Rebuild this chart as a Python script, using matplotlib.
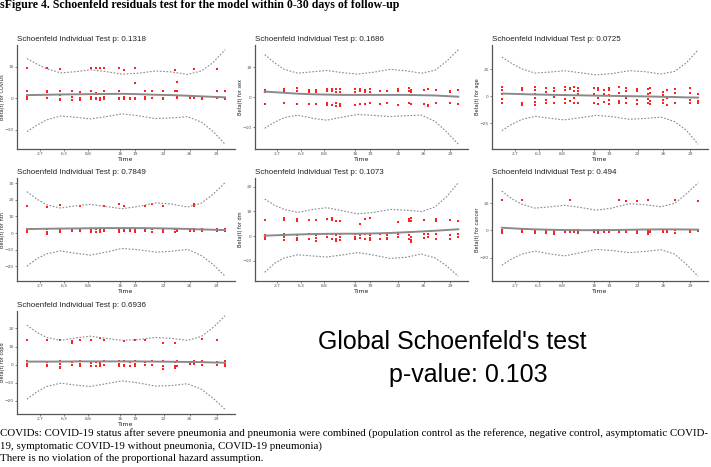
import matplotlib
matplotlib.use("Agg")
import matplotlib.pyplot as plt

# event times on the (transformed) time axis, shared by all panels
event_x = [0.0, 0.101, 0.168, 0.227, 0.266, 0.323, 0.348, 0.368, 0.390, 0.467, 0.491, 0.519,
           0.546, 0.597, 0.630, 0.689, 0.745, 0.757, 0.823, 0.841, 0.883, 0.958, 1.0]
tick_pos = [0.066, 0.187, 0.308, 0.469, 0.545, 0.691, 0.822, 0.958]
tick_lab = ['2.7', '6.3', '8.8', '16', '19', '22', '26', '29']

# grid for smooth fit and confidence band
curve_x = [0, 0.05, 0.1, 0.17, 0.25, 0.32, 0.4, 0.48, 0.56, 0.65, 0.73, 0.81, 0.88, 0.94, 1.0]

variables = ['COVIDs', 'sex', 'age', 'htn', 'dm', 'cancer', 'copd']
pvalues = ['0.1318', '0.1686', '0.0725', '0.7849', '0.1073', '0.494', '0.6936']

covids_res = [[9.5, 2.2, 0.4, -0.3], [9.5, 2.3, 2.0, 0.0], [9.2, 2.2, 1.0, -0.2, -0.6],
              [2.2, 0.3, -0.4], [2.0, 0.0, -0.4], [9.5, 2.2, 0.5, -0.3], [9.5, 1.8, 0.2, -0.2],
              [9.5, 1.2, 0.0, -0.4], [9.5, 2.2, 0.3, -0.3], [9.5, 2.2, 0.2, -0.3], [9.0, 0.4, -0.2],
              [0.0, -0.3], [9.5, 4.7, 0.2, -0.3], [2.2, 0.3, -0.2], [2.2, 0.0], [2.2, 0.2, -0.3],
              [9.0, 2.2], [5.0, 2.2, 0.3, 0.0], [0.4, 0.0], [9.2, 0.2], [0.0, -0.3],
              [9.2, 2.2, 0.0], [2.2, 0.2, -0.3]]
sex_res = [[2.4, 1.8, -2.2], [2.9, 2.2, -2.0], [3.2, 2.0, -2.1], [2.3, 1.8, -2.2], [2.5, 1.8, -2.2],
           [2.6, 2.2, -2.0, -2.4], [2.6, 2.0, -2.5], [2.8, 1.8, -2.0, -3.0], [2.6, 1.9, -2.8, -2.2],
           [2.7, 1.9, -2.6], [2.7, 2.0, -2.2], [2.4, 1.8, -2.2], [2.6, 1.8, -2.0], [2.2, -2.2],
           [2.2, -2.0], [2.7, 2.0, -2.4], [3.0, 2.2, -2.0], [2.4, 1.8, -2.3], [2.4, -2.2],
           [2.6, -2.6, -3.0], [2.4, -2.0], [2.2, 1.8, -2.0], [2.4, -2.2]]
age_res = [[8.5, 6.0, 2.5, -2.5, -6.0], [8.0, 6.0, -6.5, -8.0], [8.5, 5.5, 2.0, -1.5, -5.5, -8.0],
           [8.0, 4.0, -3.0, -6.5], [7.5, 5.0, -1.0, -6.0], [8.5, 5.5, 1.0, -2.5, -6.0],
           [8.0, 6.5, -4.0], [8.5, 4.5, -1.5, -6.0], [8.0, 5.0, 2.0, -6.0], [7.5, 2.5, -6.5],
           [8.0, 6.0, -2.0, -7.0], [6.0, 2.0, -5.5], [8.0, 5.5, 1.0, -3.5, -7.0],
           [8.5, 3.0, -4.0, -6.5], [7.5, 5.0, -2.0, -6.5], [7.0, 4.5, -3.0, -7.0],
           [6.5, 2.0, -2.5, -6.0], [8.0, 3.0, -4.5, -7.0], [4.0, 1.0, -3.5, -6.5], [5.5, -2.0, -8.0],
           [7.0, 3.0, -1.0, -6.0], [8.0, 3.0, -3.0, -6.5], [2.0, -4.0, -6.0]]
htn_res = [[16.3, 2.5, 1.5, 0.5], [16.0, 2.2, 0.5, -0.3], [16.8, 2.5, 1.5, 0.5], [2.3, 1.0],
           [16.5, 2.5, 1.2], [2.2, 1.5, 0.6], [2.2, 0.8], [2.5, 1.5, 0.5], [16.3, 2.2, 1.0],
           [17.8, 2.5, 1.5, 0.7], [16.3, 2.5, 1.0], [2.2, 1.2], [2.5, 1.5, 0.5], [16.4, 2.5, 1.0],
           [17.4, 2.3, 0.8], [16.3, 2.5, 1.5, 0.5], [2.2, 0.8], [2.5, 1.3], [2.4, 1.5],
           [17.5, 16.5, 2.5, 1.5], [2.5, 1.0], [2.4, 1.5], [2.2, 1.4]]
dm_res = [[6.5, 0.5, -0.5, -1.3], [7.2, 6.5, 0.8, -0.5, -1.5], [6.8, 6.0, 0.5, -0.8, -1.5],
          [6.5, 0.8, -1.0], [6.5, 0.5, -0.8, -1.8], [6.8, 0.8, -0.5], [7.2, 6.5, 1.0, -1.2],
          [6.0, 0.5, -1.0, -1.8], [6.0, 0.8, -0.5, -1.5], [0.8, -0.5, -1.2], [5.0, 0.5, -0.8],
          [6.8, 1.0, -1.0], [7.2, 0.5, -0.8, -1.5], [0.8, -1.0], [0.5, -0.8, -1.2],
          [5.6, 0.8, -0.5], [6.0, 7.0, 0.5, -1.0], [7.2, 6.2, -0.5, -1.5, -2.3], [6.5, 1.0, -0.8],
          [0.8, -0.5], [7.0, 6.2, 1.0, -1.0], [6.5, 0.5, -1.0], [6.0, 0.8, -0.5]]
cancer_res = [[22.5, 0.5, -1.0, -2.0], [22.5, 0.0, -1.5], [0.5, -0.8, -1.8], [0.3, -1.0, -1.8],
              [0.0, -1.5, -2.5], [0.2, -1.2], [22.5, 0.5, -1.0], [0.0, -1.5], [0.3, -0.8, -1.8],
              [0.5, -1.0], [0.0, -1.5, -2.2], [0.3, -1.0], [0.0, -1.5], [22.5, 0.5, -1.5],
              [22.0, 0.0, -1.0], [22.0, 0.3, -1.5, -2.0], [22.3, 0.0, -1.5, -2.5], [0.5, -1.0],
              [0.3, -1.2], [0.0, -1.5], [22.5, 0.5, -1.8], [0.3, -1.0], [21.5, 0.5, -0.5]]
copd_res = [[13.4, 1.8, 0.5, -0.5, -1.0], [13.4, 1.5, 0.0, -1.0], [13.4, 1.8, 0.3, -1.2, -2.0],
            [13.0, 11.8, 1.5, -0.3], [13.4, 1.8, 0.5, -0.8], [13.4, 1.0, -0.5, -1.0], [1.5, -0.5],
            [14.5, 1.6, 0.5, -0.8], [13.4, 1.8, -0.2], [1.8, 0.5, -0.8], [13.2, 1.8, 0.0, -1.0],
            [1.5, -0.5], [13.4, 1.8, 0.3, -0.8], [13.4, 1.5, 0.0], [1.8, -0.3],
            [11.8, 1.8, -1.0, -2.2], [11.8, 1.5, -0.5, -1.8], [1.8, -1.0], [1.5, 0.3], [1.8, 0.5],
            [14.2, 1.8, 0.0], [13.4, 1.5, -0.3], [1.8, 0.5, -0.8]]

covids_fit = [1.0, 1.05, 1.1, 1.2, 1.25, 1.3, 1.35, 1.4, 1.3, 1.1, 1.0, 0.8, 0.6, 0.45, 0.3]
covids_up = [12.5, 10.8, 9.3, 8.0, 8.4, 9.0, 8.4, 7.6, 7.9, 8.6, 8.3, 7.5, 8.6, 11.3, 15.3]
covids_lo = [-10.5, -8.5, -6.8, -5.6, -6.0, -6.5, -5.8, -4.9, -5.5, -6.4, -6.2, -5.8, -7.5, -10.5, -14.5]
sex_fit = [1.9, 1.7, 1.5, 1.2, 1.0, 0.9, 0.8, 0.8, 0.8, 0.8, 0.8, 0.7, 0.6, 0.4, 0.2]
sex_up = [14.2, 11.5, 9.3, 8.0, 8.5, 8.9, 8.2, 7.7, 8.3, 9.3, 8.8, 8.0, 9.0, 12.0, 15.8]
sex_lo = [-10.3, -8.3, -6.8, -5.9, -7.0, -7.6, -6.6, -5.7, -6.0, -6.4, -6.1, -5.9, -8.0, -11.5, -15.6]
age_fit = [2.5, 2.3, 2.0, 1.7, 1.4, 1.1, 0.9, 0.6, 0.4, 0.1, -0.1, -0.4, -0.7, -1.0, -1.2]
age_up = [36.3, 30.5, 25.5, 21.5, 22.5, 23.7, 21.8, 19.8, 21.0, 23.7, 22.8, 20.6, 23.0, 31.0, 43.1]
age_lo = [-31.8, -26.0, -21.5, -18.5, -20.5, -21.8, -19.8, -17.6, -18.8, -21.3, -20.5, -19.2, -23.5, -31.5, -44.4]
htn_fit = [2.4, 2.5, 2.6, 2.7, 2.8, 2.9, 3.0, 3.0, 3.0, 2.9, 2.7, 2.5, 2.2, 2.0, 1.8]
htn_up = [25.0, 20.5, 17.0, 15.1, 16.5, 17.3, 16.0, 14.7, 16.0, 18.2, 17.5, 15.7, 18.0, 23.5, 30.4]
htn_lo = [-20.0, -15.5, -12.5, -10.8, -12.3, -13.3, -11.5, -9.3, -10.0, -11.5, -11.0, -9.8, -13.5, -19.0, -26.1]
dm_fit = [0.2, 0.35, 0.5, 0.7, 0.85, 0.95, 1.0, 1.0, 1.1, 1.3, 1.6, 1.9, 2.2, 2.5, 2.8]
dm_up = [15.0, 12.5, 10.8, 9.6, 10.8, 11.5, 10.3, 9.0, 9.6, 10.8, 10.5, 9.9, 11.8, 16.0, 21.6]
dm_lo = [-14.6, -11.0, -8.8, -7.5, -8.0, -8.4, -7.6, -6.6, -7.6, -9.0, -8.5, -7.2, -8.8, -12.0, -16.2]
cancer_fit = [2.0, 1.6, 1.2, 0.8, 0.5, 0.3, 0.2, 0.2, 0.3, 0.5, 0.7, 0.8, 0.8, 0.7, 0.6]
cancer_up = [29.1, 23.5, 19.5, 16.5, 17.5, 18.6, 17.0, 15.0, 16.5, 19.8, 19.0, 17.5, 20.0, 27.0, 35.3]
cancer_lo = [-25.7, -21.0, -17.5, -15.2, -17.5, -18.8, -16.5, -14.0, -14.8, -16.4, -15.5, -14.2, -17.5, -25.0, -33.9]
copd_fit = [1.7, 1.7, 1.7, 1.7, 1.8, 1.8, 1.8, 1.8, 1.8, 1.7, 1.6, 1.5, 1.4, 1.2, 1.1]
copd_up = [21.8, 17.8, 15.0, 13.4, 14.8, 15.7, 14.5, 13.4, 13.8, 15.0, 14.5, 13.4, 15.5, 20.5, 27.0]
copd_lo = [-19.0, -15.0, -12.0, -10.2, -11.3, -12.0, -10.5, -8.9, -10.0, -11.8, -11.5, -10.5, -13.5, -18.5, -24.6]

residuals = [covids_res, sex_res, age_res, htn_res, dm_res, cancer_res, copd_res]
fits = [covids_fit, sex_fit, age_fit, htn_fit, dm_fit, cancer_fit, copd_fit]
uppers = [covids_up, sex_up, age_up, htn_up, dm_up, cancer_up, copd_up]
lowers = [covids_lo, sex_lo, age_lo, htn_lo, dm_lo, cancer_lo, copd_lo]
yticks = [[-10, 0, 10], [-10, 0, 10], [-25, 0, 25], [-20, -10, 0, 10, 20, 30],
          [-10, 0, 10, 20], [-20, 0, 20], [-20, -10, 0, 10, 20]]

W, H = 711, 467
fig = plt.figure(figsize=(W / 100, H / 100), dpi=100)

col_l = [17, 255, 492]
col_r = [235, 468, 708]
row_t = [45, 178, 311]
row_b = [149, 281, 414]

for i, var in enumerate(variables):
    r, c = divmod(i, 3)
    w = col_r[c] - col_l[c]
    ax = fig.add_axes([col_l[c] / W, 1 - row_b[r] / H, w / W, (row_b[r] - row_t[r]) / H])
    xs, ys = [], []
    for x, vals in zip(event_x, residuals[i]):
        for v in vals:
            xs.append(x)
            ys.append(v)
    ax.scatter(xs, ys, s=3, marker='s', color='#ff2020', linewidths=0, zorder=2)
    ax.plot(curve_x, fits[i], color='#8a8a8a', lw=1.4, zorder=3)
    ax.plot(curve_x, uppers[i], color='#8a8a8a', lw=0.8, ls=(0, (1.5, 1.5)))
    ax.plot(curve_x, lowers[i], color='#8a8a8a', lw=0.8, ls=(0, (1.5, 1.5)))
    lo = min(lowers[i]); hi = max(uppers[i])
    pad = (hi - lo) * 0.05
    ax.set_ylim(lo - pad, hi + pad)
    ax.set_xlim(-0.05, 1.05)
    ax.set_xticks(tick_pos)
    ax.set_xticklabels(tick_lab)
    ax.set_yticks(yticks[i])
    for s in ['top', 'right']:
        ax.spines[s].set_visible(False)
    for s in ['left', 'bottom']:
        ax.spines[s].set_color('#555555')
        ax.spines[s].set_linewidth(0.9)
    ax.tick_params(labelsize=3.2, colors='#555555', length=1.5, width=0.5, pad=0.8)
    ax.set_xlabel('Time', fontsize=4.5, labelpad=0.3, color='#222222')
    ax.set_ylabel('Beta(t) for ' + var, fontsize=3.6, color='#222222')
    ax.yaxis.set_label_coords(-12 / w, 0.5)
    ax.set_title('Schoenfeld Individual Test p: ' + pvalues[i], loc='left', fontsize=5.8,
                 pad=3, family='Liberation Sans', color='#222222')

fig.text(0, 1 - 8 / H, 'sFigure 4. Schoenfeld residuals test for the model within 0-30 days of follow-up',
         family='Liberation Serif', fontweight='bold', fontsize=8.6, va='baseline', ha='left')

fig.text(452 / W, 1 - 349 / H, "Global Schoenfeld's test", family='Liberation Sans', fontsize=18,
         ha='center', va='baseline')
fig.text(468 / W, 1 - 382 / H, 'p-value: 0.103', family='Liberation Sans', fontsize=18,
         ha='center', va='baseline')

caption = ['COVIDs: COVID-19 status after severe pneumonia and pneumonia were combined (population control as the reference, negative control, asymptomatic COVID-',
           '19, symptomatic COVID-19 without pneumonia, COVID-19 pneumonia)',
           'There is no violation of the proportional hazard assumption.']
for k, line in enumerate(caption):
    fig.text(0, 1 - (436 + 12.5 * k) / H, line, family='Liberation Serif', fontsize=7.85,
             va='baseline', ha='left')

fig.savefig('out.png', dpi=100)
